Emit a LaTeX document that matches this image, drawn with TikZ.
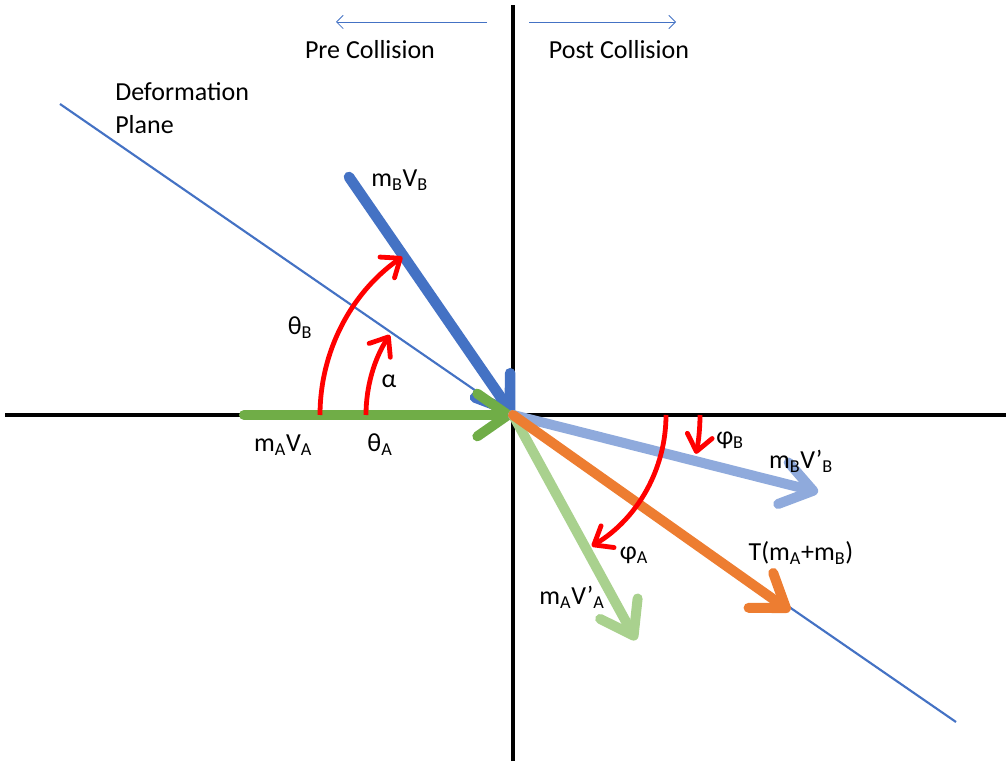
\documentclass[tikz,border=0pt]{standalone}
\usepackage{fontspec}
\setmainfont{Carlito}
\usepackage{xcolor}
\usepackage{tikz}
\usetikzlibrary{positioning, arrows.meta, calc}

\definecolor{vecblue}{HTML}{4472C4}
\definecolor{vecgreen}{HTML}{70AD47}
\definecolor{veclightblue}{HTML}{8FAADC}
\definecolor{vecorange}{HTML}{ED7D31}
\definecolor{veclightgreen}{HTML}{A9D18E}

\begin{document}
\begin{tikzpicture}[x=0.75pt, y=0.75pt,
    lbl/.style={font=\fontsize{19.5}{24.5}\selectfont, inner sep=0pt},
    axis/.style={line width=3pt, black},
    vec/.style={line width=7.5pt, line cap=round, -{Straight Barb[round, length=23pt, width=32pt]}},
    angarrow/.style={line width=3.6pt, red, -{Straight Barb[round, length=12pt, width=19pt]}},
    timearrow/.style={line width=0.6pt, vecblue, -{Straight Barb[length=5pt, width=10pt]}}]
    \useasboundingbox (0,0) rectangle (1006,761);

    \coordinate (O) at (513,346);
    \coordinate (axL) at (5,346);
    \coordinate (axR) at (1006,346);
    \coordinate (axT) at (513,756);
    \coordinate (axB) at (513,0);
    \coordinate (planeA) at (60,657);
    \coordinate (planeB) at (956,39);
    \coordinate (vbStart) at (349,584);
    \coordinate (vaStart) at (244,346);
    \coordinate (vbEnd) at (818,269);
    \coordinate (tEnd) at (790,150);
    \coordinate (vaEnd) at (636,121);
    \coordinate (preA) at (487,739);
    \coordinate (preB) at (336,739);
    \coordinate (postA) at (529,739);
    \coordinate (postB) at (676,739);

    \draw[axis] (axL) -- (axR);
    \draw[axis] (axB) -- (axT);
    \draw[line width=1.6pt, vecblue] (planeA) -- (planeB);

    \draw[timearrow] (preA) -- (preB);
    \draw[timearrow] (postA) -- (postB);

    \draw[vec, vecblue, line width=8pt] (vbStart) -- (O);
    \draw[vec, vecgreen] (vaStart) -- (O);
    \draw[vec, veclightgreen] (O) -- (vaEnd);
    \draw[vec, veclightblue] (O) -- (vbEnd);
    \draw[vec, vecorange] (O) -- (tEnd);

    \draw[angarrow] (O) ++(180:193) arc[start angle=180, end angle=125, radius=193];
    \draw[angarrow] (O) ++(180:147) arc[start angle=180, end angle=147, radius=147];
    \draw[angarrow] (O) ++(0:153) arc[start angle=0, end angle=-59, radius=153];
    \draw[angarrow] (O) ++(0:187) arc[start angle=0, end angle=-12, radius=187];

    \node[lbl] (pre) at (370,711) {Pre Collision};
    \node[lbl] (post) at (619,711) {Post Collision};
    \node[lbl, anchor=west, align=left] (plane) at (115,653) {Deformation\\Plane};
    \node[lbl, anchor=west] (mbvb) at (371,581) {m\textsubscript{B}V\textsubscript{B}};
    \node[lbl] (thetab) at (300,433) {θ\textsubscript{B}};
    \node[lbl] (alpha) at (389,380) {α};
    \node[lbl] (mava) at (283,316) {m\textsubscript{A}V\textsubscript{A}};
    \node[lbl] (thetaa) at (380,316) {θ\textsubscript{A}};
    \node[lbl] (phib) at (730,321) {φ\textsubscript{B}};
    \node[lbl] (mbvbp) at (801,300) {m\textsubscript{B}V’\textsubscript{B}};
    \node[lbl] (phia) at (634,206) {φ\textsubscript{A}};
    \node[lbl] (tmass) at (801,208) {T(m\textsubscript{A}+m\textsubscript{B})};
    \node[lbl] (mavap) at (572,164) {m\textsubscript{A}V’\textsubscript{A}};
\end{tikzpicture}
\end{document}
